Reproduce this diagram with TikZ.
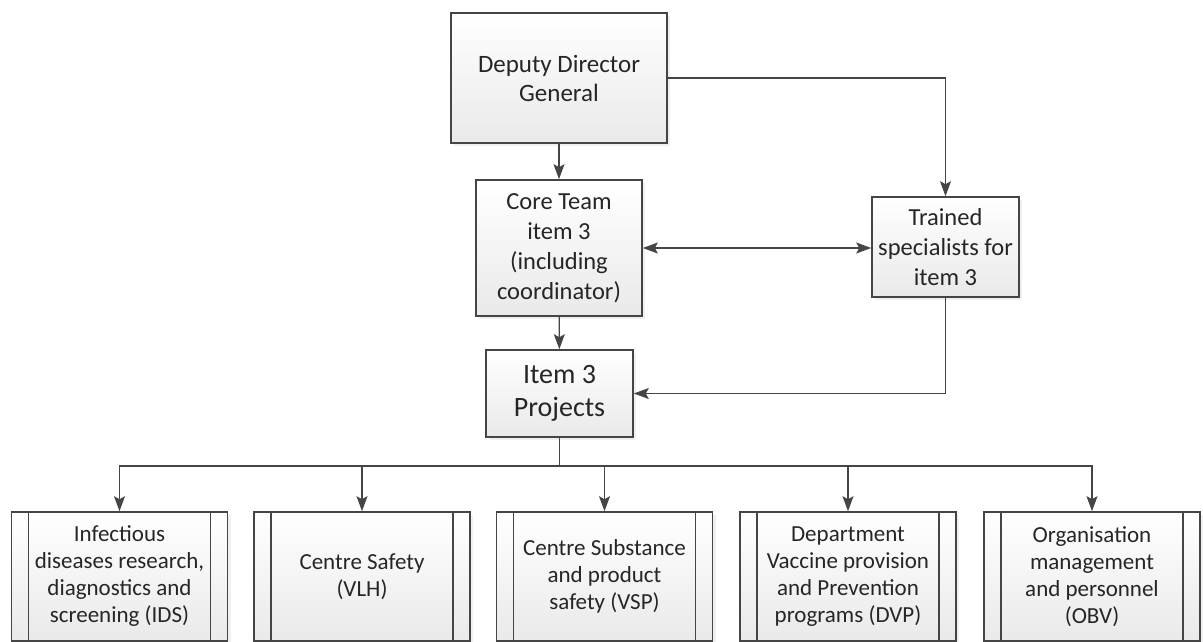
\documentclass[tikz,border=0pt]{standalone}
\usepackage{fontspec}
\setmainfont{Carlito}
\usepackage{tikz}
\usetikzlibrary{arrows.meta,shadows}
\definecolor{linegray}{HTML}{454545}
\definecolor{textgray}{HTML}{262626}
\tikzset{box/.style={draw=linegray, line width=1.6pt, shape=rectangle, top color=white, bottom color=gray!17,
	drop shadow={shadow xshift=3pt, shadow yshift=-3pt, opacity=0.12}, text=textgray, align=center, inner sep=0pt}}
\tikzset{subbox/.style={box, minimum width=216pt, minimum height=129pt, font=\fontsize{23}{27}\selectfont,
	path picture={\draw[linegray, line width=1.2pt] ([xshift=17pt]path picture bounding box.north west) -- ([xshift=17pt]path picture bounding box.south west);
		\draw[linegray, line width=1.2pt] ([xshift=-17pt]path picture bounding box.north east) -- ([xshift=-17pt]path picture bounding box.south east);}}}
\tikzset{link/.style={draw=linegray, line width=1.3pt, -{Stealth[length=15pt,width=11pt,inset=3pt]}}}
\tikzset{twolink/.style={link, {Stealth[length=15pt,width=11pt,inset=3pt]}-{Stealth[length=15pt,width=11pt,inset=3pt]}}}

\begin{document}
\begin{tikzpicture}[x=1pt, y=-1pt]
	\useasboundingbox (0,0) rectangle (1203,642);

	% TOP
	\node[box, minimum width=216pt, minimum height=130pt, font=\fontsize{25}{29}\selectfont] (ddg) at (559,78) {Deputy Director\\General};

	% MIDDLE
	\node[box, minimum width=166pt, minimum height=136pt, font=\fontsize{24.5}{30}\selectfont] (core) at (559,248) {Core Team\\item 3\\(including\\coordinator)};
	\node[box, minimum width=147pt, minimum height=100pt, font=\fontsize{24.5}{30}\selectfont] (trained) at (945.5,247) {Trained\\specialists for\\item 3};
	\node[box, minimum width=147pt, minimum height=87pt, font=\fontsize{28}{33}\selectfont] (item3) at (559.5,393.5) {Item 3\\Projects};

	% BUS
	\coordinate (bus) at (559.5,466);

	% BOTTOM
	\node[subbox] (b1) at (119.5,576.5) {Infectious\\diseases research,\\diagnostics and\\screening (IDS)};
	\node[subbox] (b2) at (362,576.5) {Centre Safety\\(VLH)};
	\node[subbox] (b3) at (604.5,576.5) {Centre Substance\\and product\\safety (VSP)};
	\node[subbox] (b4) at (848,576.5) {Department\\Vaccine provision\\and Prevention\\programs (DVP)};
	\node[subbox] (b5) at (1092,576.5) {Organisation\\management\\and personnel\\(OBV)};

	% Arrows
	\draw[link] (ddg) -- (core);
	\draw[link] (ddg.east) -| (trained.north);
	\draw[twolink] (core.east) -- (core.east -| trained.west);
	\draw[link] (core) -- (item3);
	\draw[link] (trained.south) |- (item3.east);

	\draw[draw=linegray, line width=1.3pt] (item3.south) -- (bus);
	\foreach \b in {b1,b2,b3,b4,b5}
		\draw[link] (bus) -| (\b.north);
\end{tikzpicture}
\end{document}
